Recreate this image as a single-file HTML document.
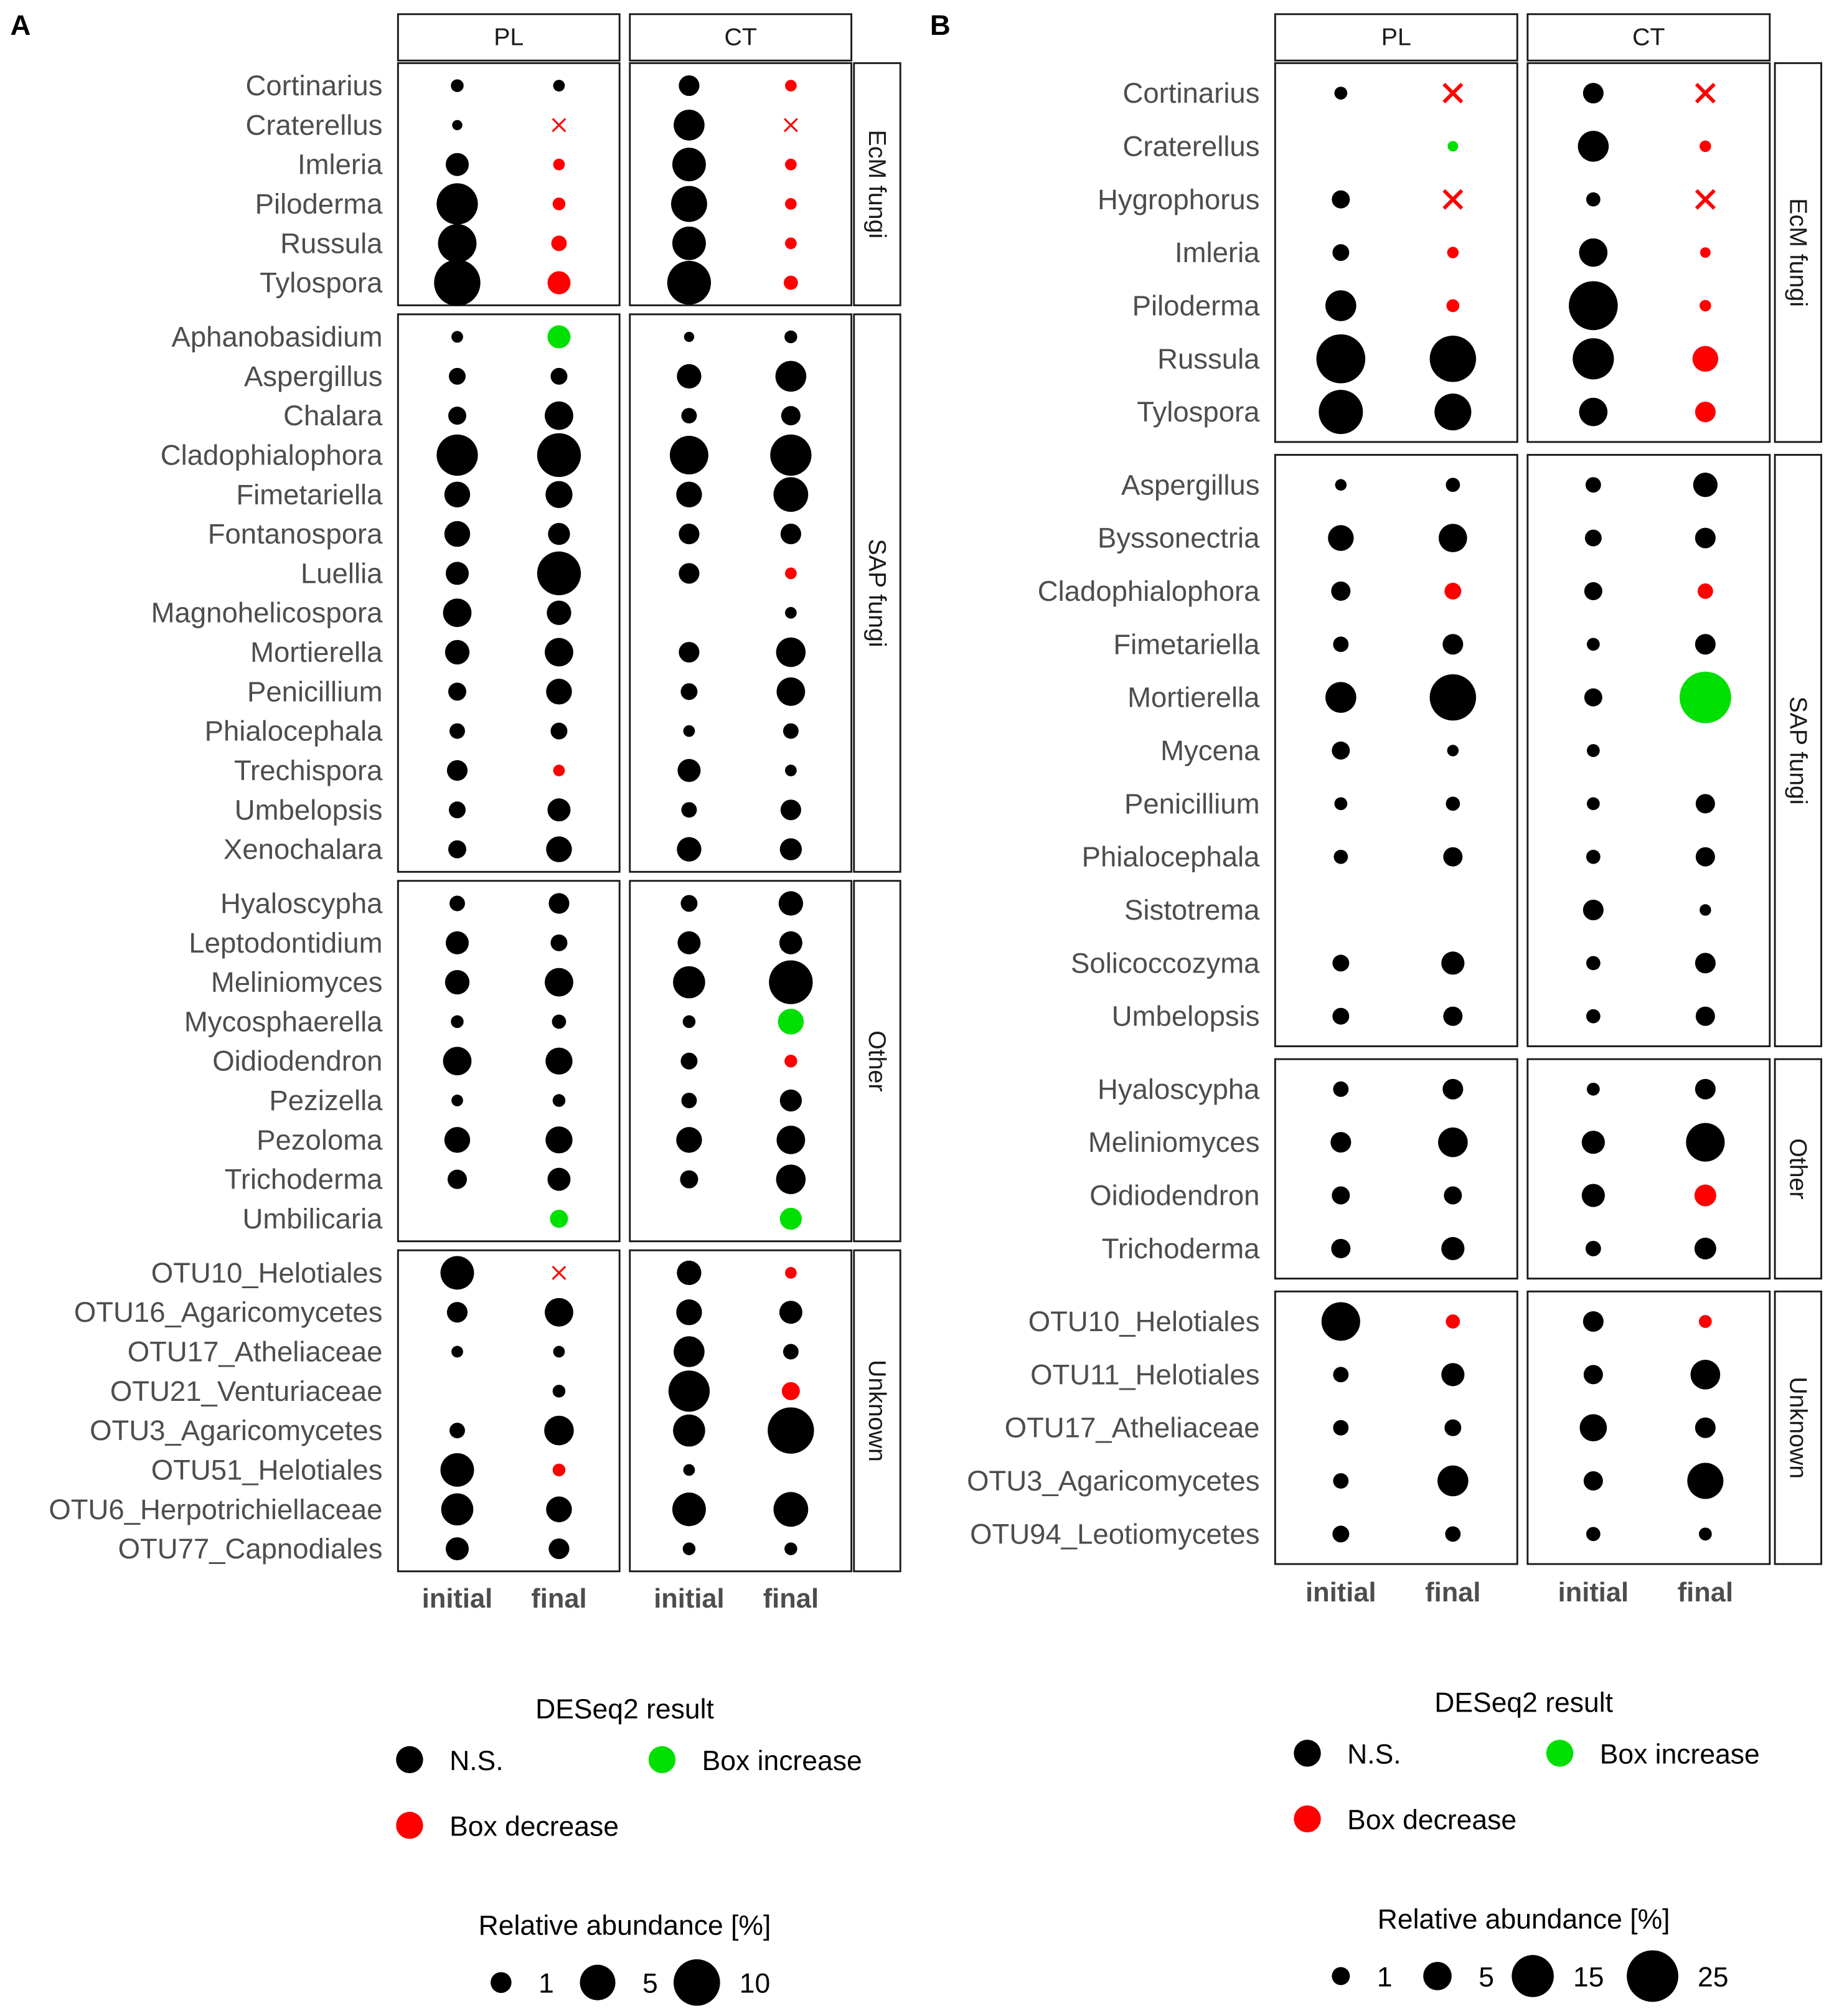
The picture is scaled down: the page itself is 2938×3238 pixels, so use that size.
<!DOCTYPE html>
<html><head><meta charset="utf-8"><style>
html,body{margin:0;padding:0;background:#fff;}
svg{display:block;font-family:"Liberation Sans",Arial,sans-serif;}
</style></head><body>
<svg id="fig" width="2938" height="3238" viewBox="0 0 1420 1565" preserveAspectRatio="none" xmlns="http://www.w3.org/2000/svg"></svg>
<script>
// ---------- Panel A data ----------
const groupsA = ["EcM fungi","SAP fungi","Other","Unknown"];
const taxaA = [
 ["Cortinarius","Craterellus","Imleria","Piloderma","Russula","Tylospora"],
 ["Aphanobasidium","Aspergillus","Chalara","Cladophialophora","Fimetariella","Fontanospora","Luellia","Magnohelicospora","Mortierella","Penicillium","Phialocephala","Trechispora","Umbelopsis","Xenochalara"],
 ["Hyaloscypha","Leptodontidium","Meliniomyces","Mycosphaerella","Oidiodendron","Pezizella","Pezoloma","Trichoderma","Umbilicaria"],
 ["OTU10_Helotiales","OTU16_Agaricomycetes","OTU17_Atheliaceae","OTU21_Venturiaceae","OTU3_Agaricomycetes","OTU51_Helotiales","OTU6_Herpotrichiellaceae","OTU77_Capnodiales"]
];
const plInitA = [[0.1,0.01,1.4,7.4,6.2,9.9],[0.05,0.43,0.58,7.4,2.0,2.0,1.4,2.7,1.7,0.58,0.3,0.96,0.43,0.58],[0.3,1.4,1.7,0.1,2.7,0.05,2.0,0.76,null],[4.3,0.96,0.05,null,0.3,4.3,3.8,1.4]];
const plFinalA = [[0.05,0,0.05,0.1,0.3,1.4],[1.4,0.43,2.7,8.6,2.3,1.2,8.6,1.7,2.7,2.0,0.43,0.05,1.4,2.0],[0.96,0.43,2.7,0.19,2.3,0.1,2.3,1.4,0.58],[0,2.7,0.05,0.1,3.0,0.1,2.0,0.96]];
const plStatA = [["n","x","d","d","d","d"],["i","n","n","n","n","n","n","n","n","n","n","d","n","n"],["n","n","n","n","n","n","n","n","i"],["x","n","n","n","n","d","n","n"]];
const ctInitA = [[0.96,3.4,4.3,5.2,4.3,8.6],[0.01,1.7,0.3,6.2,2.0,0.96,0.96,null,0.96,0.43,0.05,1.4,0.3,1.7],[0.43,1.4,3.8,0.1,0.43,0.3,2.0,0.58,null],[1.7,2.0,3.4,7.4,3.8,0.05,4.3,0.1]];
const ctFinalA = [[0.05,0,0.05,0.05,0.05,0.19],[0.1,3.4,0.76,7.4,4.7,0.96,0.05,0.05,3.0,2.7,0.3,0.05,0.96,1.2],[1.7,1.4,8.6,2.0,0.1,1.2,2.7,3.0,1.2],[0.05,1.4,0.3,0.58,9.9,null,4.7,0.1]];
const ctStatA = [["d","x","d","d","d","d"],["n","n","n","n","n","n","d","n","n","n","n","n","n","n"],["n","n","n","i","d","n","n","n","i"],["d","n","n","d","n","n","n","n"]];
const legendSizesA = [1,5,10];

// ---------- Panel B data ----------
const groupsB = ["EcM fungi","SAP fungi","Other","Unknown"];
const taxaB = [
 ["Cortinarius","Craterellus","Hygrophorus","Imleria","Piloderma","Russula","Tylospora"],
 ["Aspergillus","Byssonectria","Cladophialophora","Fimetariella","Mortierella","Mycena","Penicillium","Phialocephala","Sistotrema","Solicoccozyma","Umbelopsis"],
 ["Hyaloscypha","Meliniomyces","Oidiodendron","Trichoderma"],
 ["OTU10_Helotiales","OTU11_Helotiales","OTU17_Atheliaceae","OTU3_Agaricomycetes","OTU94_Leotiomycetes"]
];
const plInitB = [[0.15,null,1.0,0.72,6.4,22,17],[0.05,3.7,1.33,0.48,6.4,1.0,0.15,0.29,null,0.72,0.72],[0.48,1.7,1.0,1.33],[12,0.48,0.48,0.48,0.72]];
const plFinalB = [[0,0.01,0,0.05,0.15,19.2,10.5],[0.29,5.0,0.72,1.7,19.2,0.05,0.29,1.33,null,2.6,1.33],[1.7,5.7,1.0,2.6],[0.29,2.6,0.72,6.4,0.48]];
const plStatB = [["x","i","x","d","d","n","n"],["n","n","d","n","n","n","n","n","n","n","n"],["n","n","n","n"],["d","n","n","n","n"]];
const ctInitB = [[1.7,6.4,0.29,5.0,22,14.2,5.0],[0.48,0.72,1.0,0.15,1.0,0.15,0.15,0.29,1.7,0.29,0.29],[0.15,2.6,2.6,0.48],[1.7,1.33,4.4,1.33,0.29]];
const ctFinalB = [[0,0.05,0,0.01,0.05,3.7,1.7],[3.1,1.7,0.48,1.7,25,null,1.33,1.33,0.05,1.7,1.33],[1.7,12,2.1,2.1],[0.15,5.7,1.7,10,0.15]];
const ctStatB = [["x","d","x","d","d","d","d"],["n","n","d","n","i","n","n","n","n","n","n"],["n","n","d","n"],["d","n","n","n","n"]];
const legendSizesB = [1,5,15,25];

const svg = document.getElementById('fig');
const NS = "http://www.w3.org/2000/svg";
function mk(tag, attrs, parent, text){
  const e = document.createElementNS(NS, tag);
  for (const k in attrs) e.setAttribute(k, attrs[k]);
  if (text !== undefined) e.textContent = text;
  (parent || svg).appendChild(e);
  return e;
}
const COL = {n:"#000000", d:"#ff0000", i:"#00e000", x:"#ff0000"};
function rA(v){ return 3.5 + 4.6*Math.sqrt(v); }
function rB(v){ return 3.75 + 3.25*Math.sqrt(v); }

function drawPanel(cfg){
  const g = mk('g', {});
  
  
  const L = mk('text', {x:cfg.letterX, y:27, 'font-size':22, 'font-weight':'bold', fill:'#000'}, g, cfg.letter);
  
  
  const strips = [["PL", cfg.plX], ["CT", cfg.ctX]];
  strips.forEach(([lab, x0]) => {
    const r = mk('rect', {x:x0, y:11, width:cfg.boxW, height:36, fill:'#fff', stroke:'#1a1a1a', 'stroke-width':1.4}, g);
    
    
    const t = mk('text', {x:x0+cfg.boxW/2, y:35, 'text-anchor':'middle', 'font-size':19, fill:'#1a1a1a'}, g, lab);
    
    
  });
  let top = 49;
  cfg.taxa.forEach((names, gi) => {
    const n = names.length;
    const h = (n-1)*cfg.step + cfg.pad*2;
    [cfg.plX, cfg.ctX].forEach((x0, fi) => {
      const r = mk('rect', {x:x0, y:top, width:cfg.boxW, height:h, fill:'#fff', stroke:'#1a1a1a', 'stroke-width':1.4}, g);
      
      
    });
    const rs = mk('rect', {x:cfg.stripX, y:top, width:36, height:h, fill:'#fff', stroke:'#1a1a1a', 'stroke-width':1.4}, g);
    
    
    const cx = cfg.stripX + 18, cy = top + h/2;
    const gt = mk('text', {x:cx, y:cy, 'text-anchor':'middle', 'dominant-baseline':'central', 'font-size':19, fill:'#1a1a1a', transform:`rotate(90 ${cx} ${cy})`}, g, cfg.groups[gi]);
    
    
    names.forEach((nm, ri) => {
      const y = top + cfg.pad + ri*cfg.step;
      const t = mk('text', {x:cfg.labelX, y:y+7.5, 'text-anchor':'end', 'font-size':22, fill:'#4d4d4d'}, g, nm);
      
      
      const cols = [
        [cfg.plX + cfg.ci, cfg.plInit[gi][ri], 'n'],
        [cfg.plX + cfg.cf, cfg.plFinal[gi][ri], cfg.plStat[gi][ri]],
        [cfg.ctX + cfg.ci, cfg.ctInit[gi][ri], 'n'],
        [cfg.ctX + cfg.cf, cfg.ctFinal[gi][ri], cfg.ctStat[gi][ri]]
      ];
      cols.forEach(([x, v, st]) => {
        if (st === 'x') {
          const s = cfg.xs;
          const p = mk('path', {d:`M${x-s} ${y-s}L${x+s} ${y+s}M${x-s} ${y+s}L${x+s} ${y-s}`, stroke:'#ff0000', 'stroke-width':cfg.xw, fill:'none'}, g);
          
          
          return;
        }
        if (v === null || v === undefined) return;
        const c = mk('circle', {cx:x, cy:y, r:cfg.rf(v), fill:COL[st]}, g);
        
        
      });
    });
    top += h + cfg.gap;
  });
  [[cfg.plX,'initial'],[cfg.plX,'final'],[cfg.ctX,'initial'],[cfg.ctX,'final']].forEach(([x0, lab]) => {
    const t = mk('text', {x:x0 + (lab==='initial'?cfg.ci:cfg.cf), y:cfg.xlabY, 'text-anchor':'middle', 'font-size':21, 'font-weight':'bold', fill:'#4d4d4d'}, g, lab);
    
    
  });
  const lg = mk('g', {}, g);
  
  
  const Lx = cfg.legX, Ly = cfg.legY;
  const t1 = mk('text', {x:cfg.legMid, y:Ly, 'text-anchor':'middle', 'font-size':21.5, fill:'#000'}, lg, 'DESeq2 result');
  
  
  const ents = [[Lx, Ly+32, '#000', 'N.S.'], [Lx+196, Ly+32, '#00e000', 'Box increase'], [Lx, Ly+83, '#ff0000', 'Box decrease']];
  ents.forEach(([x, y, c, lab]) => {
    const ci = mk('circle', {cx:x, cy:y, r:10.5, fill:c}, lg);
    
    
    const tt = mk('text', {x:x+31, y:y+8, 'font-size':21.5, fill:'#000'}, lg, lab);
    
    
  });
  const t2 = mk('text', {x:cfg.legMid, y:Ly+168, 'text-anchor':'middle', 'font-size':21.5, fill:'#000'}, lg, 'Relative abundance [%]');
  
  
  cfg.sizes.forEach((v, i) => {
    const x = cfg.sizeX[i];
    const ci = mk('circle', {cx:x, cy:Ly+205, r:cfg.rf(v), fill:'#000'}, lg);
    
    
    const tt = mk('text', {x:x + cfg.rf(v) + 27, y:Ly+213, 'text-anchor':'middle', 'font-size':21.5, fill:'#000'}, lg, String(v));
    
    
  });
}

drawPanel({name:'panel-a', letter:'A', letterX:8, groups:groupsA, taxa:taxaA,
  plInit:plInitA, plFinal:plFinalA, plStat:plStatA, ctInit:ctInitA, ctFinal:ctFinalA, ctStat:ctStatA,
  plX:309, ctX:489, boxW:172, stripX:663, ci:46, cf:125, step:30.6, pad:17.5, gap:7,
  labelX:297, rf:rA, xs:5, xw:1.5, xlabY:1248, legX:318, legY:1334, legMid:485,
  sizes:legendSizesA, sizeX:[389,464,541]});
drawPanel({name:'panel-b', letter:'B', letterX:722, groups:groupsB, taxa:taxaB,
  plInit:plInitB, plFinal:plFinalB, plStat:plStatB, ctInit:ctInitB, ctFinal:ctFinalB, ctStat:ctStatB,
  plX:990, ctX:1186, boxW:188, stripX:1378, ci:51, cf:138, step:41.25, pad:23.3, gap:10,
  labelX:978, rf:rB, xs:7, xw:2.8, xlabY:1243, legX:1015, legY:1329, legMid:1183,
  sizes:legendSizesB, sizeX:[1041,1116,1190,1283]});
</script>
</body></html>
